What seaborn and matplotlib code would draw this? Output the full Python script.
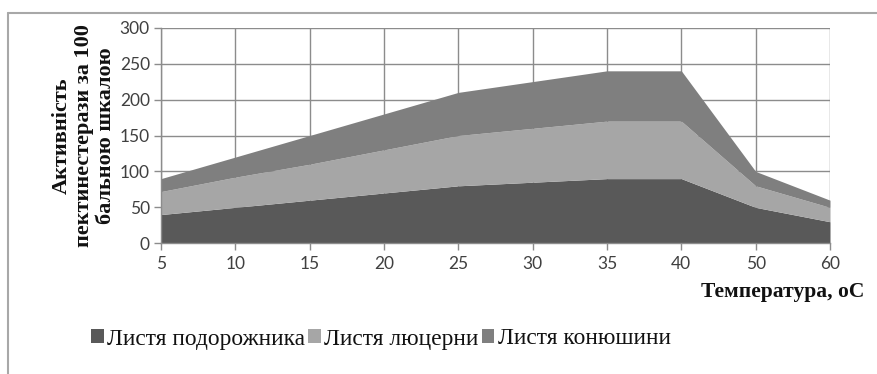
import matplotlib
matplotlib.use("Agg")
import matplotlib.pyplot as plt
import seaborn as sns
from matplotlib.lines import Line2D
from matplotlib.font_manager import FontProperties

# Temperature categories (equally spaced on the axis)
temperature = ["5", "10", "15", "20", "25", "30", "35", "40", "50", "60"]

# Pectinesterase activity (100-point scale) per leaf source
plantain = [40, 50, 60, 70, 80, 85, 90, 90, 50, 30]
alfalfa = [32, 42, 50, 60, 70, 75, 80, 80, 30, 20]
clover = [18, 28, 40, 50, 60, 65, 70, 70, 20, 10]

series_names = ["Листя подорожника", "Листя люцерни", "Листя конюшини"]
y_ticks = [0, 50, 100, 150, 200, 250, 300]

colors = ["#595959", "#a6a6a6", "#7f7f7f"]
grid_color = "#8c8c8c"
tick_color = "#404040"

sns.set_theme(style="whitegrid")
plt.rcParams["font.family"] = ["Lato", "DejaVu Sans"]

W, H = 878, 374
fig = plt.figure(figsize=(W / 100, H / 100), dpi=100)
fig.patch.set_facecolor("white")

left, right, top, bottom = 161, 830, 27.7, 243.3
ax = fig.add_axes([left / W, 1 - bottom / H, (right - left) / W, (bottom - top) / H])
ax.set_facecolor("white")

x = list(range(len(temperature)))
ax.stackplot(x, plantain, alfalfa, clover, colors=colors, labels=series_names,
             linewidth=0, zorder=2)

ax.set_xlim(0, len(temperature) - 1)
ax.set_ylim(0, 300)
ax.set_xticks(x)
ax.set_xticklabels(temperature)
ax.set_yticks(y_ticks)

ax.set_axisbelow(True)
ax.grid(True, color=grid_color, linewidth=1.0)
for side in ["top", "right"]:
    ax.spines[side].set_visible(False)
for side in ["left", "bottom"]:
    ax.spines[side].set_color(grid_color)
    ax.spines[side].set_linewidth(1.0)
    ax.spines[side].set_zorder(3)

ax.tick_params(axis="both", which="major", length=5, width=1, color=grid_color,
               labelsize=12.5, labelcolor=tick_color, direction="out")
ax.tick_params(axis="y", pad=3, left=True)
ax.tick_params(axis="x", pad=4, bottom=True)

serif = "Liberation Serif"

# Axis titles
fig.text(84 / W, 1 - 136 / H, "Активність\nпектинестерази за 100\nбальною шкалою",
         rotation=90, ha="center", va="center", multialignment="center",
         fontsize=16, fontweight="bold", fontfamily=serif, linespacing=1.12,
         color="#111111")
fig.text(864 / W, 1 - 292 / H, "Температура, оС", ha="right", va="center",
         fontsize=15.5, fontweight="bold", fontfamily=serif, color="#111111")

# Legend
handles, labels = ax.get_legend_handles_labels()
legend_font = FontProperties(family=serif, style="normal", weight="normal", size=16.8)
leg = fig.legend(handles, labels, loc="center left",
                 bbox_to_anchor=(91 / W, 1 - 339 / H), ncol=3, frameon=False,
                 prop=legend_font, handlelength=0.55,
                 handleheight=0.55, handletextpad=0.15, columnspacing=0.12,
                 borderpad=0, borderaxespad=0)
for t in leg.get_texts():
    t.set_color("#111111")
    t.set_fontproperties(legend_font)

# Chart-area frame (top and left edges)
frame_color = "#a8a8a8"
fig.add_artist(Line2D([8 / W, 1], [1 - 13 / H, 1 - 13 / H], transform=fig.transFigure,
                      color=frame_color, linewidth=1.5))
fig.add_artist(Line2D([8 / W, 8 / W], [1 - 13 / H, 0], transform=fig.transFigure,
                      color=frame_color, linewidth=1.5))

fig.savefig("out.png", dpi=100, facecolor="white")
